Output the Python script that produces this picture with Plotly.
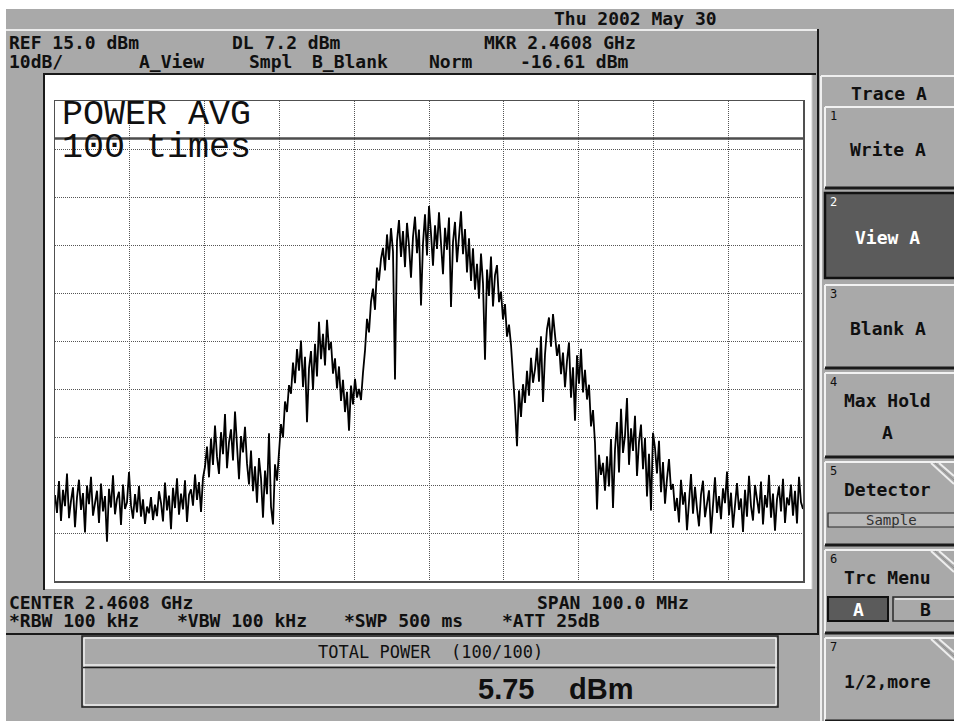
import numpy as np
import plotly.graph_objects as go

# ---------------- data ----------------
CENTER_MHZ = 2460.8
SPAN_MHZ = 100.0
REF_DBM = 15.0
DB_PER_DIV = 10.0
N_DIV = 10
DL_DBM = 7.2

# Trace A (power average, 100 sweeps), dBm, evenly spaced over the span
trace_dbm = [
    # noise floor, left
    -67.1, -70.8, -64.2, -72.5, -66.0, -69.4, -62.6, -71.9, -68.3, -65.5,
    -73.8, -67.6, -63.9, -70.2, -66.7, -74.9, -65.1, -69.0, -63.3, -71.4,
    -68.8, -66.2, -72.9, -64.7, -70.5, -67.3, -76.8, -65.8, -69.7, -63.0,
    -71.1, -67.9, -66.4, -73.3, -64.9, -70.0, -68.6, -62.3, -69.2, -72.0,
    -66.9, -70.7, -65.2, -71.6, -68.0, -73.1, -69.5, -70.9, -67.5, -72.3,
    -69.1, -71.5, -66.3, -68.7, -72.6, -64.5, -70.3, -67.2, -74.2, -65.6,
    -69.8, -63.6, -71.2, -66.8, -70.1, -64.0, -72.7, -67.0, -65.9, -69.3,
    -62.8, -68.1, -64.4, -70.6, -63.5,
    # lower-left shoulder
    -61.2, -57.0, -63.4, -55.3, -60.8, -52.6, -59.1, -62.7, -54.0, -58.6,
    -50.2, -61.5, -56.1, -53.4, -59.9, -49.7, -57.5, -63.8, -54.8, -58.2, -52.9,
    -60.5, -64.9, -57.8, -66.3, -61.1, -68.7, -59.4, -63.6, -71.8, -62.0,
    -66.9, -54.2, -69.5, -73.2, -60.7, -64.1,
    -58.0, -52.3, -55.1, -47.6, -49.8, -44.2,
    # upper-left shoulder
    -46.0, -39.5, -43.8, -36.7, -41.2, -34.9, -44.6, -38.3, -51.9, -40.7,
    -37.1, -45.2, -35.6, -42.4, -31.0, -38.8, -33.5, -40.1, -30.6, -36.9,
    -35.2, -41.8, -38.6, -44.9, -40.3, -47.5, -43.1, -49.8, -45.6, -53.7,
    -44.3, -48.2, -42.9, -46.8, -45.0,
    -47.3, -41.6, -37.0, -30.4, -33.2, -26.8, -24.1, -28.5, -19.7, -22.4, -17.9,
    # main lobe
    -15.6, -20.3, -12.8, -18.1, -11.5, -16.4, -43.0, -14.2, -9.8, -17.5,
    -12.1, -19.6, -10.4, -15.1, -21.8, -13.3, -9.1, -16.7, -11.8, -27.6,
    -14.7, -8.6, -17.2, -6.9, -12.6, -19.3, -10.9, -15.8, -8.2, -13.9,
    -21.1, -11.4, -16.0, -9.3, -27.9, -14.4, -10.2, -18.6, -12.3, -8.0,
    -16.9, -11.7, -20.7, -13.6,
    -22.5, -15.7, -24.3, -18.9, -26.2, -16.8, -23.0, -38.9, -20.1, -25.6,
    -17.4, -27.8, -21.3, -19.2, -26.9,
    -24.7, -30.5, -27.3, -34.1, -31.6, -35.8,
    # upper-right shoulder
    -42.0, -48.6, -56.9, -45.3, -50.8, -44.0, -47.9, -41.2, -46.4, -38.5, -43.7,
    -40.9, -36.4, -43.5, -34.0, -47.7, -37.8, -32.5, -30.1, -36.2, -29.4,
    -33.8, -38.1,
    -35.7, -41.9, -37.4, -44.6, -39.2, -35.3, -46.8, -40.5, -51.6, -38.0,
    -43.9, -36.6, -45.7, -41.0,
    -47.2, -44.1, -52.8, -49.4, -56.3, -70.1, -58.7, -62.9, -60.4, -66.2,
    # lower-right shoulder
    -59.0, -65.3, -55.4, -69.8, -57.6, -51.9, -62.4, -49.1, -58.3, -54.7,
    -46.9, -60.8, -53.2, -57.9, -50.6, -63.1, -56.0, -52.4, -61.7, -55.2,
    -67.4, -58.5, -70.3, -54.1,
    -57.3, -62.6, -55.8, -66.5, -60.2, -68.9, -63.7, -59.6, -66.0,
    # noise floor, right
    -64.8, -70.4, -67.7, -72.8, -63.9, -69.1, -66.5, -74.4, -68.2, -62.7,
    -71.0, -65.4, -69.9, -73.6, -67.0, -64.1, -71.7, -68.5, -66.1, -75.1,
    -69.6, -63.4, -70.8, -67.3, -72.1, -65.7, -68.8, -62.2, -71.3, -66.6,
    -73.9, -69.0, -64.6, -70.2, -67.8, -74.8, -66.0, -71.6, -63.1, -69.4,
    -72.4, -65.0, -68.4, -70.9, -64.3, -73.2, -67.1, -69.7, -62.9, -71.8,
    -66.8, -74.5, -68.0, -65.3, -70.5, -63.7, -72.9, -67.6, -69.2, -64.9,
    -71.4, -66.2, -73.0, -63.3, -68.6, -70.0,
]

header_row1 = [("REF 15.0 dBm", 7), ("DL 7.2 dBm", 230), ("MKR 2.4608 GHz", 482)]
header_row2 = [("10dB/", 7), ("A_View", 137), ("Smpl", 247), ("B_Blank", 310),
               ("Norm", 427), ("-16.61 dBm", 518)]
footer_row1 = [("CENTER 2.4608 GHz", 7), ("SPAN 100.0 MHz", 535)]
footer_row2 = [("*RBW 100 kHz", 7), ("*VBW 100 kHz", 175), ("*SWP 500 ms", 342),
               ("*ATT 25dB", 500)]
date_text = "Thu 2002 May 30"
avg_lines = ["POWER AVG", "100 times"]
total_label = "TOTAL POWER  (100/100)"
total_value = "5.75"
total_unit = "dBm"
menu_title = "Trace A"
softkeys = [  # (number, label lines, y_top, y_bottom)
    ("1", ["Write A"], 107, 188),
    ("2", ["View A"], 193, 278),
    ("3", ["Blank A"], 285, 368),
    ("4", ["Max Hold", "A"], 373, 457),
    ("5", ["Detector"], 462, 545),
    ("6", ["Trc Menu"], 550, 633),
    ("7", ["1/2,more"], 638, 721),
]

# ---------------- layout geometry (pixels) ----------------
W, H = 954, 721
L, R, T, B = 55, 803, 101, 581
BG = "#a9a9a9"
DARK = "#5b5b5b"
INK = "#101010"
MONO = "DejaVu Sans Mono"


def px(x):
    return (x - L) / (R - L)


def py(y):
    return (B - y) / (B - T)


shapes = []
annos = []


def rect(x0, y0, x1, y1, fill=None, lc=None, lw=0, layer="above"):
    shapes.append(dict(type="rect", xref="paper", yref="paper",
                       x0=px(x0), x1=px(x1), y0=py(y1), y1=py(y0),
                       fillcolor=fill if fill else "rgba(0,0,0,0)",
                       line=dict(color=lc if lc else "rgba(0,0,0,0)", width=lw),
                       layer=layer))


def seg(x0, y0, x1, y1, color, width=1, layer="above"):
    shapes.append(dict(type="line", xref="paper", yref="paper",
                       x0=px(x0), x1=px(x1), y0=py(y0), y1=py(y1),
                       line=dict(color=color, width=width), layer=layer))


def txt(s, x, y, size=18, color=INK, family=MONO, xanchor="left", weight="bold"):
    annos.append(dict(text=s, x=px(x), y=py(y), xref="paper", yref="paper",
                      xanchor=xanchor, yanchor="middle", showarrow=False,
                      font=dict(family=family, size=size, color=color,
                                weight=weight)))


# outer white strips
rect(0, 0, W, 9, fill="white", layer="below")
rect(0, 0, 6, H, fill="white", layer="below")
# white screen area
rect(45, 75, 812, 589, fill="white", layer="below")
seg(812, 75, 812, 589, "#d0d0d0", 1)
# frame lines
seg(6, 30, 817, 30, "#ececec", 2)
seg(818, 29, 818, 635, "#1a1a1a", 2)
seg(6, 634, 818, 634, "#1a1a1a", 2)
seg(43, 74, 816, 74, "#1a1a1a", 2)
seg(44, 74, 44, 590, "#1a1a1a", 2)

# right soft-key panel
seg(821, 76, W, 76, "#efefef", 2)
seg(821, 76, 821, H, "#efefef", 2)
for num, lines, y0, y1 in softkeys:
    if num == "2":
        rect(825, y0, W + 2, y1, fill=DARK, lc="#111111", lw=2.5)
        tcol = "white"
    else:
        seg(825, y0, W, y0, "#f2f2f2", 2)
        seg(825, y0, 825, y1, "#f2f2f2", 2)
        seg(825, y1, W, y1, "#1a1a1a", 3)
        tcol = INK
    txt(num, 828, y0 + 9, size=12, color=tcol, weight="normal")
    if num in ("5", "6", "7"):
        seg(931, y0 + 1, W, y0 + 22, "#eeeeee", 2)
        seg(939, y0 + 1, W, y0 + 14, "#eeeeee", 2)
        seg(935, y0 + 1, W, y0 + 18, "#8c8c8c", 1)
    if len(lines) == 2:
        txt(lines[0], 888, y0 + 27, color=tcol, xanchor="center")
        txt(lines[1], 888, y0 + 59, color=tcol, xanchor="center")
    elif num in ("5", "6"):
        txt(lines[0], 888, y0 + 27, color=tcol, xanchor="center")
    else:
        txt(lines[0], 888, (y0 + y1) / 2 + 2, color=tcol, xanchor="center")
txt(menu_title, 889, 93, xanchor="center")

# Detector "Sample" box
rect(828, 513, W + 2, 527, fill="#b9b9b9", lc="#2a2a2a", lw=1.2)
txt("Sample", 891, 520, size=14, color="#303030", xanchor="center", weight="normal")
# Trc Menu A / B boxes
rect(828, 597, 888, 621, fill=DARK, lc="#111111", lw=2)
txt("A", 858, 609, color="white", xanchor="center")
rect(893, 597, W + 2, 621, fill=BG, lc="#2a2a2a", lw=1.5)
seg(895, 599, W, 599, "#eeeeee", 1.5)
txt("B", 925, 609, xanchor="center")

# header / footer annotation texts
txt(date_text, 552, 19)
for s, x in header_row1:
    txt(s, x, 43)
for s, x in header_row2:
    txt(s, x, 61)
for s, x in footer_row1:
    txt(s, x, 602)
for s, x in footer_row2:
    txt(s, x, 620)

# total power box
rect(82, 636, 778, 707, lc="#1e1e1e", lw=1.5)
seg(84, 638, 776, 638, "#f0f0f0", 1.5)
seg(84, 638, 84, 705, "#f0f0f0", 1.5)
seg(84, 665, 776, 665, "#f0f0f0", 1.5)
seg(83, 667.5, 777, 667.5, "#1e1e1e", 1.5)
seg(84, 705, 776, 705, "#f0f0f0", 1.5)
seg(776, 638, 776, 705, "#f0f0f0", 1.5)
txt(total_label, 430, 652, size=17, xanchor="center", weight="normal")
txt(total_value, 476, 689, size=29, family="Liberation Sans")
txt(total_unit, 567, 689, size=29, family="Liberation Sans")

# POWER AVG overlay text
txt(avg_lines[0], 60, 115, size=35, family="Liberation Mono", weight="normal")
txt(avg_lines[1], 60, 148, size=35, family="Liberation Mono", weight="normal")

# display line (DL)
shapes.append(dict(type="line", xref="paper", yref="y", x0=0, x1=1,
                   y0=DL_DBM, y1=DL_DBM, line=dict(color="#4d4d4d", width=2.5),
                   layer="above"))

# ---------------- trace ----------------
n = len(trace_dbm)
freq = np.linspace(CENTER_MHZ - SPAN_MHZ / 2, CENTER_MHZ + SPAN_MHZ / 2, n)
fig = go.Figure(go.Scatter(x=freq, y=trace_dbm, mode="lines",
                           line=dict(color="#000000", width=1.8),
                           hoverinfo="skip", showlegend=False))

bottom = REF_DBM - DB_PER_DIV * N_DIV
axis_common = dict(showticklabels=False, ticks="", zeroline=False,
                   showgrid=True, gridcolor="#555555", gridwidth=1,
                   griddash="1px,1px", showline=True, mirror=True,
                   linecolor="#505050", linewidth=1.5, fixedrange=True)
fig.update_xaxes(range=[CENTER_MHZ - SPAN_MHZ / 2, CENTER_MHZ + SPAN_MHZ / 2],
                 tickmode="linear", tick0=CENTER_MHZ - SPAN_MHZ / 2,
                 dtick=SPAN_MHZ / N_DIV, **axis_common)
fig.update_yaxes(range=[bottom, REF_DBM], tickmode="linear", tick0=bottom,
                 dtick=DB_PER_DIV, **axis_common)

fig.update_layout(
    width=W, height=H,
    margin=dict(l=L, r=W - R, t=T, b=H - B, pad=0, autoexpand=False),
    paper_bgcolor=BG, plot_bgcolor="white",
    shapes=shapes, annotations=annos,
    showlegend=False, hovermode=False,
)
fig.write_html("out.html", config={"displayModeBar": False, "staticPlot": True})

# remove the browser's default 8px body margin so the figure sits at (0, 0)
with open("out.html", encoding="utf-8") as f:
    page = f.read()
page = page.replace("<body>", '<body style="margin:0;overflow:hidden">', 1)
with open("out.html", "w", encoding="utf-8") as f:
    f.write(page)
